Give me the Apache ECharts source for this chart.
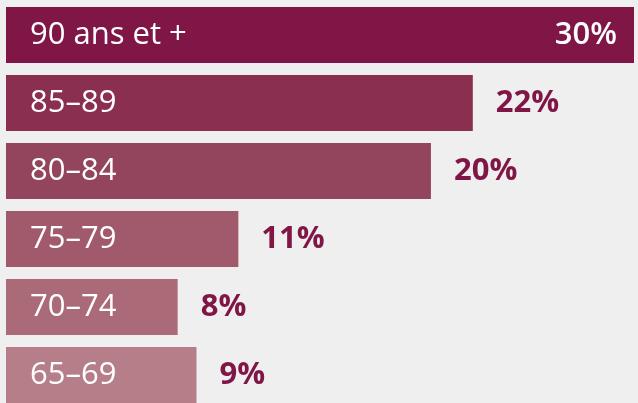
<!DOCTYPE html>
<html><head><meta charset="utf-8">
<script src="https://cdn.jsdelivr.net/npm/echarts@6/dist/echarts.min.js"></script>
<style>html,body{margin:0;padding:0;background:#efefef;overflow:hidden}#c{width:638px;height:410px}</style>
</head><body><div id="c"></div>
<script>
const categories = ['90 ans et +', '85–89', '80–84', '75–79', '70–74', '65–69'];
const values = [30, 22.3, 20.3, 11.1, 8.2, 9.1];
const valueLabels = ['30%', '22%', '20%', '11%', '8%', '9%'];
const barColors = ['#801645', '#8b2f50', '#93455d', '#a05a6b', '#ab6a77', '#b57e89'];

const chart = echarts.init(document.getElementById('c'), null, {renderer: 'canvas'});
const font = '"Open Sans", sans-serif';
chart.setOption({
  backgroundColor: '#efefef',
  animation: false,
  grid: {left: 6, right: 4, top: 1, height: 408, containLabel: false},
  xAxis: {type: 'value', min: 0, max: 30, show: false},
  yAxis: {type: 'category', data: categories, inverse: true, show: false},
  series: [
    {
      type: 'bar', barWidth: 56,
      data: values.map((v, i) => ({
        value: v,
        itemStyle: {color: barColors[i]},
        label: i === 0 ? {position: 'insideRight', distance: 17, color: '#ffffff', fontWeight: 600} : {}
      })),
      label: {
        show: true, position: 'right', distance: 23,
        fontFamily: font, fontSize: 31, fontWeight: 'bold', color: '#7f1646',
        formatter: p => valueLabels[p.dataIndex]
      }
    },
    {
      type: 'bar', barWidth: 56, barGap: '-100%',
      data: values,
      itemStyle: {color: 'rgba(0,0,0,0)'},
      label: {
        show: true, position: 'insideLeft', distance: 24,
        fontFamily: font, fontSize: 31, color: '#ffffff',
        formatter: p => categories[p.dataIndex]
      }
    }
  ]
});
</script></body></html>
